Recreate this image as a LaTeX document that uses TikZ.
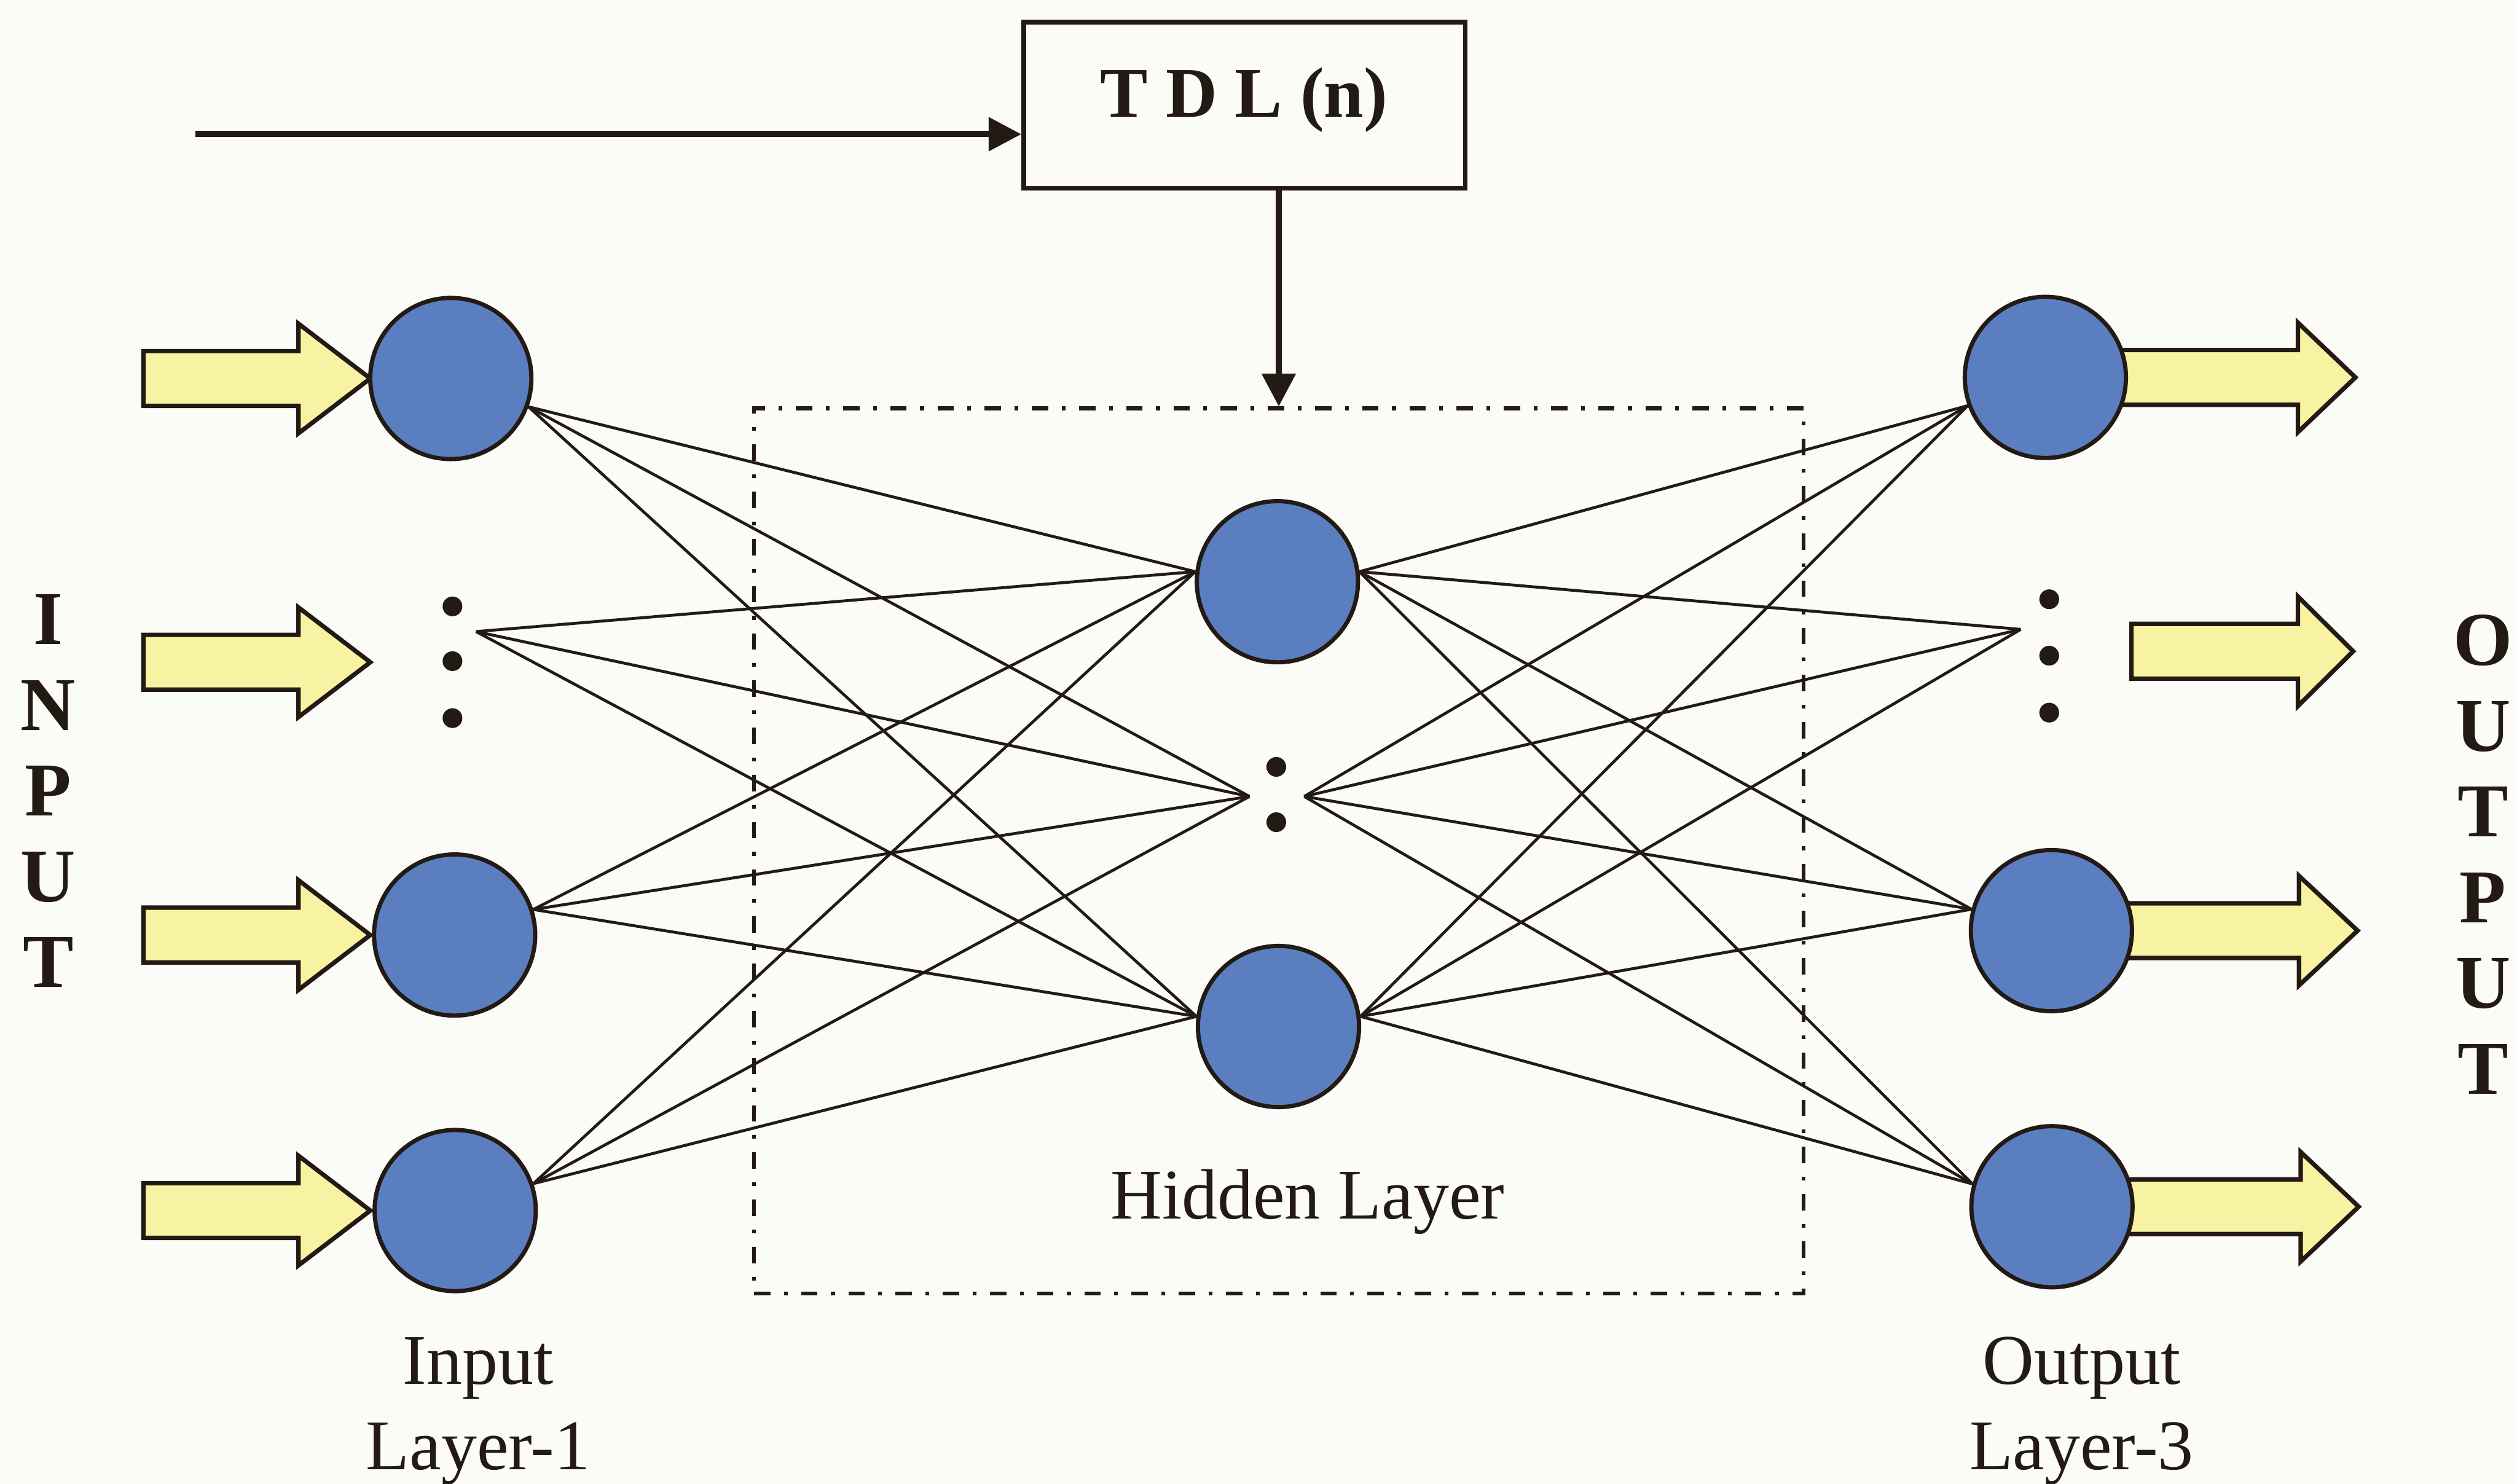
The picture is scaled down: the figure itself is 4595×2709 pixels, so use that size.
\documentclass[tikz,border=0pt]{standalone}
\usepackage{fontspec}
\setmainfont{Liberation Serif}
\usetikzlibrary{arrows.meta}
\definecolor{nodeblue}{HTML}{5B7EC0}
\definecolor{arrowyellow}{HTML}{F8F3A3}
\definecolor{ink}{HTML}{231A14}
\definecolor{paper}{HTML}{FBFBF8}
\tikzset{
  neuron/.style={circle, draw=ink, fill=nodeblue, line width=2.2pt, inner sep=0pt, minimum size=2.94cm},
  link/.style={draw=ink, line width=1.5pt},
  dotmark/.style={circle, fill=ink, inner sep=0pt, minimum size=0.36cm},
  fat/.style={draw=ink, fill=arrowyellow, line width=2.3pt, line join=miter},
  hiddenbox/.style={draw=ink, line width=2pt, dash pattern=on 8.5pt off 7pt on 2pt off 7pt, minimum width=19.15cm, minimum height=16.15cm, inner sep=0pt},
  tdlbox/.style={draw=ink, line width=2.4pt, minimum width=8.06cm, minimum height=3.03cm, inner sep=0pt},
  signal/.style={draw=ink, line width=3.2pt, -{Triangle[length=17pt,width=17pt]}},
  lbl/.style={font=\fontsize{37}{44}\selectfont, text=ink, inner sep=0pt},
  tdltext/.style={font=\fontsize{37}{44}\selectfont\bfseries, text=ink, inner sep=0pt},
  bigletter/.style={font=\fontsize{39.5}{44.5}\selectfont\bfseries, text=ink, align=center, inner sep=0pt},
}
\newcommand\fatarrow[4]{%
  \draw[fat] (#1,#4-50) -- (#2,#4-50) -- (#2,#4-100) -- (#3,#4) -- (#2,#4+100) -- (#2,#4+50) -- (#1,#4+50) -- cycle;}
\begin{document}
\begin{tikzpicture}[x=0.01cm, y=-0.01cm]
\fill[paper] (0,0) rectangle (4595,2709);
\useasboundingbox (0,0) rectangle (4595,2709);

% boxes
\node[tdlbox] (tdl) at (2272,192) {};
\node[tdltext, anchor=base] (tdllabel) at (2271,214) {T D L (n)};
\node[hiddenbox] (hidbox) at (2334.5,1553.5) {};
\node[lbl, anchor=base] (hidlabel) at (2387,2225) {Hidden Layer};

% TDL connectors
\coordinate (tin) at (357,245);
\draw[signal] (tin) -- (tin -| tdl.west);
\draw[signal] (tdl.south -| hidbox.north) -- (hidbox.north);

% positions
\coordinate (i1) at (823,691);
\coordinate (i3) at (830,1707);
\coordinate (i4) at (831,2210);
\coordinate (h1c) at (2332,1062);
\coordinate (h3c) at (2334,1874);
\coordinate (o1c) at (3734,689);
\coordinate (o3c) at (3745,1699);
\coordinate (o4c) at (3746,2203);

% input fat arrows
\fatarrow{262}{545}{676}{691}
\fatarrow{262}{545}{676}{1209}
\fatarrow{262}{545}{676}{1707}
\fatarrow{262}{545}{676}{2210}
% output fat arrows
\fatarrow{3734}{4195}{4300}{689}
\fatarrow{3891}{4195}{4296}{1189}
\fatarrow{3745}{4197}{4304}{1699}
\fatarrow{3746}{4200}{4306}{2203}

% neurons
\node[neuron] (in1) at (i1) {};
\node[neuron] (in3) at (i3) {};
\node[neuron] (in4) at (i4) {};
\node[neuron] (hid1) at (h1c) {};
\node[neuron] (hid3) at (h3c) {};
\node[neuron] (out1) at (o1c) {};
\node[neuron] (out3) at (o3c) {};
\node[neuron] (out4) at (o4c) {};

% ellipsis dots
\node[dotmark] (idot1) at (826,1107) {};
\node[dotmark] (idot2) at (826,1207) {};
\node[dotmark] (idot3) at (826,1311) {};
\node[dotmark] (hdot1) at (2330,1400) {};
\node[dotmark] (hdot2) at (2330,1501) {};
\node[dotmark] (odot1) at (3741,1094) {};
\node[dotmark] (odot2) at (3741,1197) {};
\node[dotmark] (odot3) at (3741,1301) {};
\coordinate (idc) at (869,1153);
\coordinate (hl) at (2281,1454);
\coordinate (hr) at (2381,1454);
\coordinate (odc) at (3689,1149);

% input -> hidden links
\foreach \s in {in1.-20, idc, in3.18, in4.19}{
  \foreach \t in {hid1.173, hl, hid3.173}{
    \draw[link] (\s) -- (\t);
  }
}
% hidden -> output links
\foreach \s in {hid1.7, hr, hid3.7}{
  \foreach \t in {out1.200, odc, out3.165, out4.164}{
    \draw[link] (\s) -- (\t);
  }
}

% side labels
\node[bigletter] (inword) at (88,1444) {I\\N\\P\\U\\T};
\node[bigletter] (outword) at (4533,1560) {O\\U\\T\\P\\U\\T};

% layer labels
\node[lbl, anchor=base] (inlab1) at (873,2527) {Input};
\node[lbl, anchor=base] (inlab2) at (873,2683) {Layer-1};
\node[lbl, anchor=base] (outlab1) at (3800,2527) {Output};
\node[lbl, anchor=base] (outlab2) at (3800,2683) {Layer-3};
\end{tikzpicture}
\end{document}
